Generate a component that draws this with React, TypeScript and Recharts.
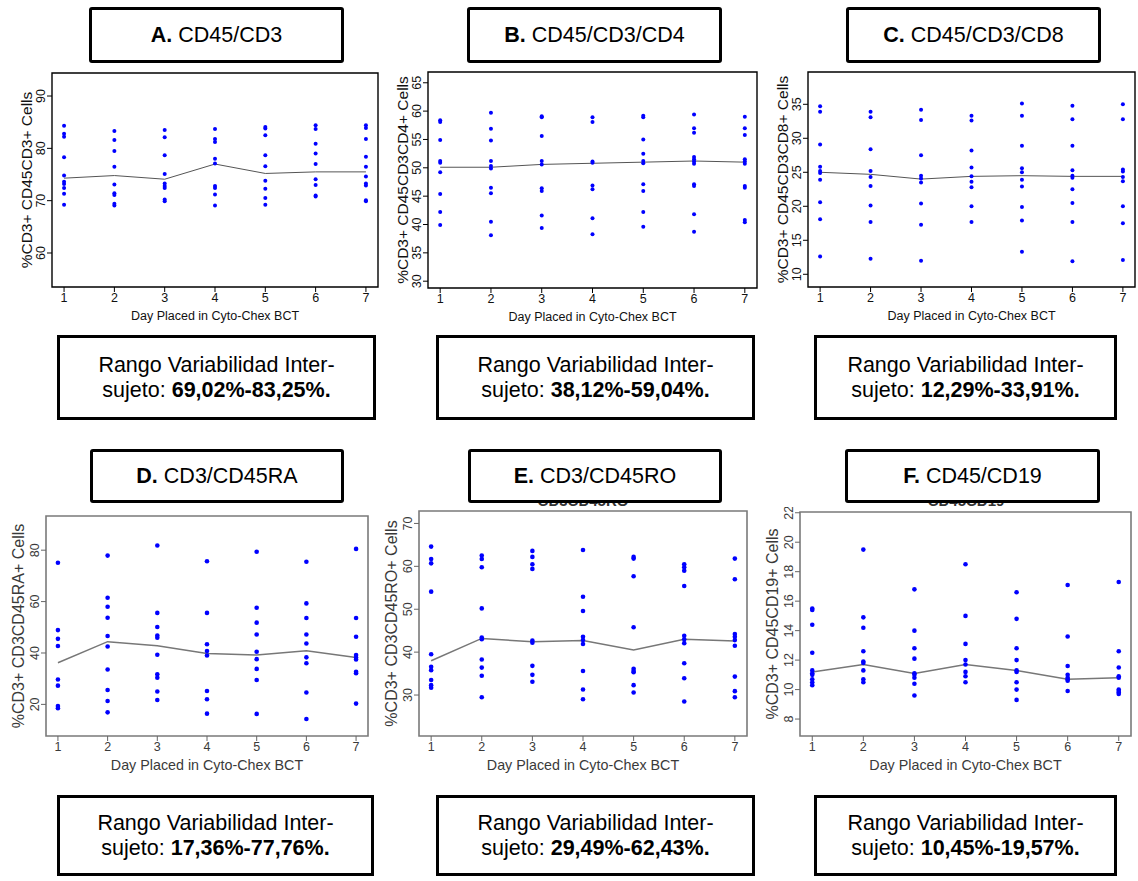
import React from 'react';
import { ScatterChart, Scatter, XAxis, YAxis, ReferenceArea } from 'recharts';

const days = [1, 2, 3, 4, 5, 6, 7];
const xDomain: [number, number] = [0.76, 7.24];

// Panel A: %CD3+ CD45CD3+
const cd3Points = [
  [84.3, 82.8, 82.2, 78.3, 74.8, 73.6, 73.2, 72.4, 71.3, 69.2],
  [83.3, 81.6, 79.5, 76.5, 73.1, 71.4, 71.1, 69.4, 69.1],
  [83.5, 82.1, 78.7, 75.1, 73.3, 72.8, 72.4, 70.2, 69.9],
  [83.7, 81.8, 81.2, 78.0, 77.1, 72.8, 72.4, 71.2, 69.1],
  [84.1, 83.8, 82.5, 78.7, 76.6, 73.8, 72.3, 70.5, 69.2],
  [84.4, 83.7, 80.9, 79.0, 77.0, 74.1, 73.0, 71.0, 70.8],
  [84.4, 83.9, 81.8, 78.4, 76.5, 74.6, 73.3, 72.9, 70.1, 69.9],
];
const cd3Median = [74.3, 74.8, 74.1, 77.0, 75.2, 75.5, 75.5];
const cd3Ticks = [60, 70, 80, 90];

// Panel B: %CD3+ CD45CD3CD4+
const cd4Points = [
  [58.4, 58.1, 54.9, 51.2, 50.9, 49.2, 45.4, 42.2, 39.9],
  [59.7, 56.9, 54.8, 51.2, 50.3, 49.9, 46.5, 45.5, 40.5, 38.1],
  [59.1, 58.9, 55.6, 51.2, 50.6, 46.4, 45.9, 41.6, 39.4],
  [58.9, 58.1, 51.1, 50.9, 46.9, 46.2, 41.1, 38.3],
  [59.2, 58.9, 55.0, 52.5, 51.2, 50.8, 47.1, 45.9, 42.2, 39.6],
  [59.4, 57.0, 56.2, 51.9, 51.5, 51.1, 50.7, 47.1, 46.8, 41.8, 38.7],
  [59.0, 57.0, 55.8, 51.5, 51.1, 50.7, 46.8, 46.5, 40.8, 40.4],
];
const cd4Median = [50.1, 50.1, 50.6, 50.8, 51.0, 51.2, 51.0];
const cd4Ticks = [30, 35, 40, 45, 50, 55, 60, 65];

// Panel C: %CD3+ CD45CD3CD8+
const cd8Points = [
  [34.7, 33.9, 29.1, 25.8, 25.2, 24.9, 23.9, 20.6, 18.1, 12.6],
  [33.9, 33.1, 28.4, 25.2, 24.3, 23.0, 20.1, 17.7, 12.3],
  [34.2, 32.7, 27.5, 24.5, 24.1, 23.5, 20.4, 17.3, 12.0],
  [33.3, 32.6, 28.2, 25.7, 24.4, 23.6, 22.8, 20.0, 17.7],
  [35.1, 33.3, 28.9, 25.6, 25.0, 23.9, 22.9, 19.9, 17.9, 13.3],
  [34.8, 32.8, 28.9, 25.3, 24.5, 24.2, 22.5, 20.5, 17.7, 11.9],
  [35.0, 32.8, 25.4, 25.1, 24.3, 23.7, 20.0, 17.5, 12.1],
];
const cd8Median = [25.0, 24.7, 24.0, 24.4, 24.5, 24.4, 24.4];
const cd8Ticks = [10, 15, 20, 25, 30, 35];

// Panel D: %CD3+ CD3CD45RA+
const raPoints = [
  [75.1, 48.9, 45.5, 42.7, 29.7, 27.3, 19.4, 18.5],
  [77.9, 61.5, 58.0, 53.7, 46.6, 42.5, 33.6, 25.6, 21.3, 16.9],
  [81.8, 55.6, 50.1, 46.8, 45.9, 39.3, 31.7, 30.4, 25.0, 21.7],
  [75.7, 55.6, 43.4, 40.8, 39.0, 25.2, 22.0, 16.4],
  [79.4, 57.6, 51.8, 47.2, 40.5, 37.6, 33.8, 29.5, 16.3],
  [75.5, 59.3, 53.6, 47.2, 43.7, 38.3, 36.0, 24.6, 14.3],
  [80.5, 53.6, 46.3, 39.2, 38.2, 37.5, 32.7, 32.1, 20.3],
];
const raMedian = [36.2, 44.4, 42.8, 39.8, 39.2, 40.9, 38.2];
const raTicks = [20, 40, 60, 80];

// Panel E: %CD3+ CD3CD45RO+
const roPoints = [
  [64.6, 61.7, 60.7, 54.1, 39.5, 36.6, 35.8, 33.5, 32.3, 31.7],
  [62.5, 61.7, 59.8, 50.2, 43.4, 43.0, 38.3, 36.4, 34.5, 29.5],
  [63.6, 62.2, 60.5, 59.4, 42.7, 42.2, 36.8, 34.7, 33.1],
  [63.8, 52.9, 49.6, 43.6, 42.8, 41.9, 35.6, 31.3, 29.0],
  [62.2, 61.8, 57.7, 45.8, 36.1, 35.6, 35.3, 32.3, 30.6],
  [60.5, 59.8, 59.0, 55.4, 43.8, 43.0, 42.1, 37.4, 33.9, 28.5],
  [61.8, 57.0, 44.2, 43.6, 42.8, 41.5, 34.3, 30.9, 29.5],
];
const roMedian = [38.0, 43.2, 42.4, 42.7, 40.5, 43.0, 42.6];
const roTicks = [30, 40, 50, 60, 70];

// Panel F: %CD3+ CD45CD19+
const cd19Points = [
  [15.5, 15.4, 14.4, 12.5, 11.3, 11.1, 11.0, 10.7, 10.5, 10.3],
  [19.5, 14.9, 14.2, 12.6, 11.9, 11.8, 11.3, 10.7, 10.5],
  [16.8, 14.0, 12.8, 12.1, 11.1, 11.0, 10.8, 10.4, 9.6],
  [18.5, 15.0, 13.1, 12.0, 11.7, 11.2, 10.9, 10.5],
  [16.6, 14.8, 12.8, 12.0, 11.3, 11.2, 10.5, 10.0, 9.3],
  [17.1, 13.6, 11.6, 11.0, 10.8, 10.7, 10.6, 9.9],
  [17.3, 12.6, 11.5, 10.9, 10.8, 10.0, 9.9, 9.8, 9.7],
];
const cd19Median = [11.2, 11.7, 11.1, 11.7, 11.3, 10.7, 10.8];
const cd19Ticks = [8, 10, 12, 14, 16, 18, 20, 22];

const FONT = '"Liberation Sans", Arial, Helvetica, sans-serif';

type Frame = { x: number; y: number; w: number; h: number };
type Look = {
  frameStroke: string; frameWidth: number; text: string; tickColor: string;
  tickFont: number; xLabelFont: number; yLabelFont: number; dotR: number;
  lineStroke: string; lineWidth: number; yLabelGap: number;
};

const topLook: Look = {
  frameStroke: '#000', frameWidth: 1.4, text: '#111', tickColor: '#000',
  tickFont: 12.5, xLabelFont: 12.5, yLabelFont: 15.5, dotR: 2,
  lineStroke: '#555', lineWidth: 1, yLabelGap: 26,
};
const bottomLook: Look = {
  frameStroke: '#7a7a7a', frameWidth: 1.6, text: '#3a3a3a', tickColor: '#666',
  tickFont: 12.5, xLabelFont: 14.3, yLabelFont: 16, dotR: 2.3,
  lineStroke: '#777', lineWidth: 1.5, yLabelGap: 28,
};

function Panel(props: {
  points: number[][]; median: number[]; ticks: number[]; domain: [number, number];
  yLabel: string; frame: Frame; look: Look;
}) {
  const { points, median, ticks, domain, yLabel, frame, look } = props;
  const pts = points.flatMap((vals, i) => vals.map((v) => ({ day: days[i], value: v })));
  const med = median.map((v, i) => ({ day: days[i], value: v }));
  const LEFT = 50, TOP = 5, RIGHT = 3, BOTTOM = 45;
  const RotTick = (p: any) => (
    <text
      x={p.x}
      y={p.y}
      transform={`rotate(-90 ${p.x} ${p.y})`}
      textAnchor="middle"
      fontSize={look.tickFont}
      fill={look.text}
      fontFamily={FONT}
    >
      {p.payload.value}
    </text>
  );
  const xLabel = (p: any) => {
    const vb = p.viewBox;
    return (
      <text
        x={vb.x + vb.width / 2}
        y={vb.y + 29}
        textAnchor="middle"
        dominantBaseline="central"
        fontSize={look.xLabelFont}
        fill={look.text}
        fontFamily={FONT}
      >
        Day Placed in Cyto-Chex BCT
      </text>
    );
  };
  const yLab = (p: any) => {
    const vb = p.viewBox;
    const cx = vb.x + vb.width - look.yLabelGap;
    const cy = vb.y + vb.height / 2;
    return (
      <text
        x={cx}
        y={cy}
        transform={`rotate(-90 ${cx} ${cy})`}
        textAnchor="middle"
        dominantBaseline="central"
        fontSize={look.yLabelFont}
        fill={look.text}
        fontFamily={FONT}
      >
        {yLabel}
      </text>
    );
  };
  return (
    <div style={{ position: 'absolute', left: frame.x - LEFT, top: frame.y - TOP }}>
      <ScatterChart
        width={frame.w + LEFT + RIGHT}
        height={frame.h + TOP + BOTTOM}
        margin={{ top: TOP, right: RIGHT, left: 0, bottom: 0 }}
      >
        <XAxis
          type="number"
          dataKey="day"
          domain={xDomain}
          ticks={days}
          interval={0}
          allowDataOverflow
          axisLine={false}
          tickSize={5}
          tickMargin={1}
          height={BOTTOM}
          tickLine={{ stroke: look.tickColor, strokeWidth: 1 }}
          tick={{ fontSize: look.tickFont, fill: look.text, fontFamily: FONT }}
          label={xLabel}
        />
        <YAxis
          type="number"
          dataKey="value"
          domain={domain}
          ticks={ticks}
          interval={0}
          allowDataOverflow
          axisLine={false}
          tickSize={5}
          tickMargin={2}
          width={LEFT}
          tickLine={{ stroke: look.tickColor, strokeWidth: 1 }}
          tick={RotTick}
          label={yLab}
        />
        <ReferenceArea
          x1={xDomain[0]}
          x2={xDomain[1]}
          y1={domain[0]}
          y2={domain[1]}
          fill="none"
          fillOpacity={0}
          stroke={look.frameStroke}
          strokeWidth={look.frameWidth}
          ifOverflow="visible"
        />
        <Scatter
          data={med}
          isAnimationActive={false}
          line={{ stroke: look.lineStroke, strokeWidth: look.lineWidth }}
          shape={() => <g />}
        />
        <Scatter
          data={pts}
          isAnimationActive={false}
          shape={(p: any) => <circle cx={p.cx} cy={p.cy} r={look.dotR} fill="#0000ff" />}
        />
      </ScatterChart>
    </div>
  );
}

function TitleBox(props: { x: number; y: number; w: number; h: number; letter: string; name: string }) {
  return (
    <div
      style={{
        position: 'absolute', left: props.x, top: props.y, width: props.w, height: props.h,
        boxSizing: 'border-box', border: '3.5px solid #000', borderRadius: 3, background: '#fff',
        display: 'flex', alignItems: 'center', justifyContent: 'center',
        fontFamily: FONT, fontSize: 21.5, color: '#000', whiteSpace: 'nowrap',
      }}
    >
      <b>{props.letter}</b>&nbsp;{props.name}
    </div>
  );
}

function RangeBox(props: { x: number; y: number; w: number; h: number; range: string }) {
  return (
    <div
      style={{
        position: 'absolute', left: props.x, top: props.y, width: props.w, height: props.h,
        boxSizing: 'border-box', border: '3.5px solid #000', background: '#fff',
        display: 'flex', alignItems: 'center', justifyContent: 'center', textAlign: 'center',
        fontFamily: FONT, fontSize: 21.5, lineHeight: '25px', color: '#000',
      }}
    >
      <div>
        Rango Variabilidad Inter-
        <br />
        sujeto: <b>{props.range}</b>
      </div>
    </div>
  );
}

function HiddenTitle(props: { cx: number; baseline: number; text: string }) {
  return (
    <div
      style={{
        position: 'absolute', left: props.cx - 100, width: 200, top: props.baseline - 13,
        textAlign: 'center', fontFamily: FONT, fontWeight: 'bold', fontSize: 15,
        lineHeight: '15px', color: '#333',
      }}
    >
      {props.text}
    </div>
  );
}

export default function App() {
  return (
    <div
      style={{
        position: 'absolute', left: 0, top: 0, width: 1138, height: 881,
        overflow: 'hidden', background: '#fff',
      }}
    >
      <Panel points={cd3Points} median={cd3Median} ticks={cd3Ticks} domain={[53.5, 94.4]}
        yLabel="%CD3+ CD45CD3+ Cells" frame={{ x: 52, y: 73, w: 326, h: 214 }} look={topLook} />
      <Panel points={cd4Points} median={cd4Median} ticks={cd4Ticks} domain={[28.8, 66.9]}
        yLabel="%CD3+ CD45CD3CD4+ Cells" frame={{ x: 428, y: 72, w: 329, h: 216 }} look={topLook} />
      <Panel points={cd8Points} median={cd8Median} ticks={cd8Ticks} domain={[8.13, 39.75]}
        yLabel="%CD3+ CD45CD3CD8+ Cells" frame={{ x: 808, y: 72, w: 327, h: 215 }} look={topLook} />
      <Panel points={raPoints} median={raMedian} ticks={raTicks} domain={[7.7, 93.3]}
        yLabel="%CD3+ CD3CD45RA+ Cells" frame={{ x: 46, y: 516, w: 322, h: 220 }} look={bottomLook} />
      <Panel points={roPoints} median={roMedian} ticks={roTicks} domain={[20.45, 72.9]}
        yLabel="%CD3+ CD3CD45RO+ Cells" frame={{ x: 419, y: 511, w: 328, h: 225 }} look={bottomLook} />
      <Panel points={cd19Points} median={cd19Median} ticks={cd19Ticks} domain={[6.85, 22.05]}
        yLabel="%CD3+ CD45CD19+ Cells" frame={{ x: 800, y: 512, w: 331, h: 224 }} look={bottomLook} />

      <HiddenTitle cx={583} baseline={506} text="CD3CD45RO" />
      <HiddenTitle cx={966} baseline={506} text="CD45CD19" />

      <TitleBox x={89} y={7} w={255} h={56} letter="A." name="CD45/CD3" />
      <TitleBox x={467} y={7} w={255} h={56} letter="B." name="CD45/CD3/CD4" />
      <TitleBox x={846} y={7} w={255} h={56} letter="C." name="CD45/CD3/CD8" />
      <TitleBox x={90} y={449} w={254} h={54} letter="D." name="CD3/CD45RA" />
      <TitleBox x={468} y={449} w={254} h={54} letter="E." name="CD3/CD45RO" />
      <TitleBox x={845} y={449} w={255} h={54} letter="F." name="CD45/CD19" />

      <RangeBox x={57} y={335} w={319} h={85} range="69,02%-83,25%." />
      <RangeBox x={436} y={335} w={319} h={85} range="38,12%-59,04%." />
      <RangeBox x={814} y={335} w={303} h={85} range="12,29%-33,91%." />
      <RangeBox x={57} y={795} w={317} h={81} range="17,36%-77,76%." />
      <RangeBox x={436} y={795} w={319} h={81} range="29,49%-62,43%." />
      <RangeBox x={814} y={795} w={303} h={81} range="10,45%-19,57%." />
    </div>
  );
}
